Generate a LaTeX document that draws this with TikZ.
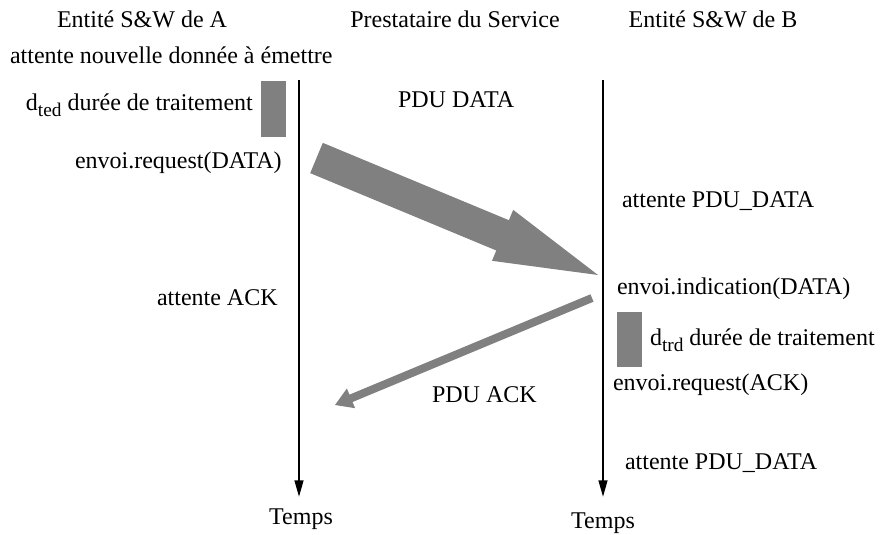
\documentclass[tikz,border=0pt]{standalone}
\usepackage{fontspec}
\setmainfont{Liberation Serif}
\usetikzlibrary{calc,arrows.meta}

\definecolor{msggray}{RGB}{128,128,128}

% Broad filled message arrow: #1 tail, #2 tip, #3 half shaft width,
% #4 half head width, #5 head length
\newcommand{\msgarrow}[5]{%
  \coordinate (hb) at ($(#2)!#5!(#1)$);
  \fill[msggray]
    ($(#1)!#3!90:(#2)$) -- ($(hb)!#3!90:(#2)$) -- ($(hb)!#4!90:(#2)$)
    -- (#2) -- ($(hb)!#4!-90:(#2)$) -- ($(hb)!#3!-90:(#2)$)
    -- ($(#1)!#3!-90:(#2)$) -- cycle;
}
% lowered subscript for the delay labels
\newcommand{\lowsub}[1]{\raisebox{-5pt}{\fontsize{14.5pt}{15pt}\selectfont #1}}

\begin{document}
\begin{tikzpicture}[x=0.75pt,y=-0.75pt,
  every node/.style={font=\fontsize{18pt}{22pt}\selectfont, inner sep=0pt, outer sep=0pt},
  lbl/.style={anchor=base west},
  hdr/.style={anchor=base},
  lifeline/.style={line width=1.7pt, -{Triangle[length=12.5pt, width=6.5pt]}},
  procbox/.style={fill=msggray}]
\useasboundingbox (0,0) rectangle (885,535);

% column headers
\node[hdr] (hA) at (142,28) {Entité S\&W de A};
\node[hdr] (hS) at (455,28) {Prestataire du Service};
\node[hdr] (hB) at (713,28) {Entité S\&W de B};

% lifelines
\coordinate (aTop) at (299,80);
\coordinate (aBot) at (299,497);
\coordinate (bTop) at (603,80);
\coordinate (bBot) at (603,497);
\draw[lifeline] (aTop) -- (aBot);
\draw[lifeline] (bTop) -- (bBot);
\node[hdr] (tA) at (301,524) {Temps};
\node[hdr] (tB) at (603,528) {Temps};

% processing delays
\fill[procbox] (261,81) rectangle (286,137);
\fill[procbox] (617,312) rectangle (642,367);

% side A labels
\node[lbl] (waitNew) at (10,64) {attente nouvelle donnée à émettre};
\node[lbl] (dted) at (26,110) {d\lowsub{ted} durée de traitement};
\node[lbl] (reqData) at (75,168) {envoi.request(DATA)};
\node[lbl] (waitAck) at (157,305) {attente ACK};

% side B labels
\node[lbl] (waitData1) at (622,207) {attente PDU\_DATA};
\node[lbl] (indData) at (617,294) {envoi.indication(DATA)};
\node[lbl] (dtrd) at (650,345) {d\lowsub{trd} durée de traitement};
\node[lbl] (reqAck) at (613,390) {envoi.request(ACK)};
\node[lbl] (waitData2) at (625,469) {attente PDU\_DATA};

% messages
\node[lbl] (pduData) at (398,108) {PDU DATA};
\node[lbl] (pduAck) at (432,402) {PDU ACK};

\coordinate (dataTail) at (316.5,158);
\coordinate (dataTip) at (598,275);
\msgarrow{dataTail}{dataTip}{12.3pt}{20.7pt}{77.5pt}

\coordinate (ackTail) at (592,298);
\coordinate (ackTip) at (335,405);
\msgarrow{ackTail}{ackTip}{3pt}{8pt}{13pt}
\end{tikzpicture}
\end{document}
